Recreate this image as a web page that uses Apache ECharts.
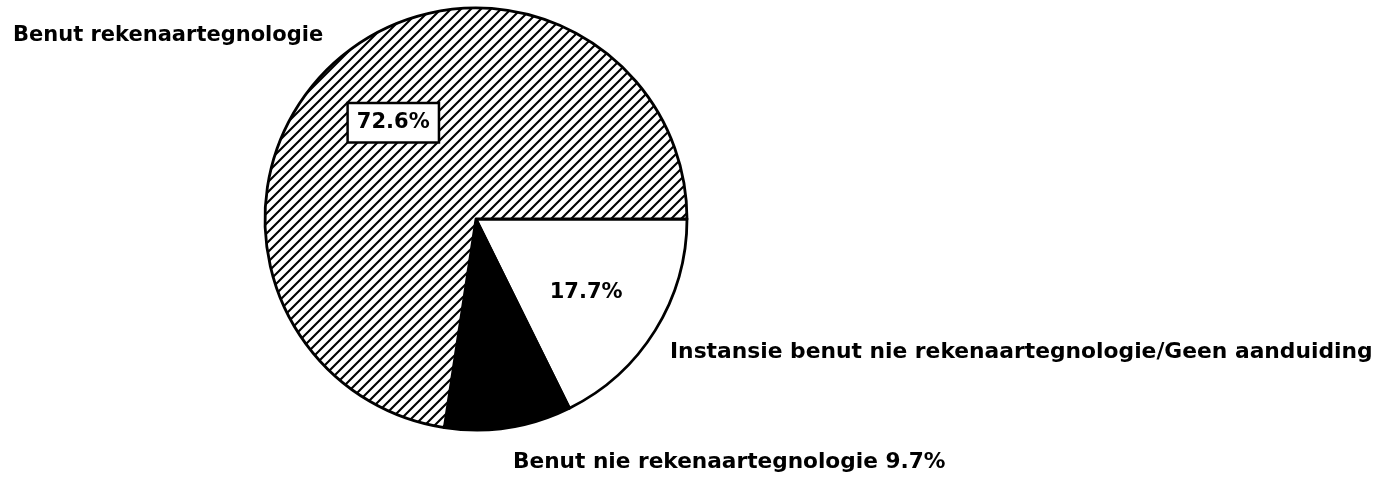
<!DOCTYPE html>
<html>
<head>
<meta charset="utf-8">
<script src="https://cdn.jsdelivr.net/npm/echarts@6/dist/echarts.min.js"></script>
<style>
html,body{margin:0;padding:0;background:#fff;}
#c{width:1388px;height:479px;}
</style>
</head>
<body>
<div id="c"></div>
<script>
// Data (clockwise from 3 o'clock)
var categories = ['Instansie benut nie rekenaartegnologie/Geen aanduiding', 'Benut nie rekenaartegnologie', 'Benut rekenaartegnologie'];
var values = [17.7, 9.7, 72.6];
var outerLabels = ['Instansie benut nie rekenaartegnologie/Geen aanduiding', 'Benut nie rekenaartegnologie 9.7%', 'Benut rekenaartegnologie'];

var FONT = 'bold 21px "DejaVu Sans"';

function hatch() {
  var s = 10;
  var cv = document.createElement('canvas');
  cv.width = s; cv.height = s;
  var g = cv.getContext('2d');
  g.fillStyle = '#fff'; g.fillRect(0, 0, s, s);
  g.strokeStyle = '#000'; g.lineWidth = 2.1;
  g.beginPath();
  g.moveTo(-s, s); g.lineTo(s, -s);
  g.moveTo(0, 2 * s); g.lineTo(2 * s, 0);
  g.moveTo(-s, 2 * s); g.lineTo(2 * s, -s);
  g.stroke();
  return cv;
}

var fills = ['#ffffff', '#000000', { image: hatch(), repeat: 'repeat' }];
var baseLabel = { show: true, position: 'inside', formatter: '{c}%', color: '#000',
  fontFamily: 'DejaVu Sans', fontWeight: 'bold', fontSize: 21 };
var labelStyles = [
  baseLabel,
  { show: false },
  Object.assign({}, baseLabel, { backgroundColor: '#fff', borderColor: '#000', borderWidth: 2.5, padding: [9, 8, 7, 8] })
];
var shifts = [[18, 16], [0, 0], [-12, -14]];

var chart = echarts.init(document.getElementById('c'), null, { renderer: 'canvas' });
chart.setOption({
  backgroundColor: '#fff',
  animation: false,
  series: [{
    type: 'pie',
    center: [476, 219],
    radius: 211,
    startAngle: 0,
    clockwise: true,
    silent: true,
    data: categories.map(function (n, i) {
      return {
        name: n, value: values[i],
        itemStyle: { color: fills[i], borderColor: '#000', borderWidth: 2.8 },
        label: labelStyles[i]
      };
    }),
    labelLine: { show: false },
    labelLayout: function (p) {
      var s = shifts[p.dataIndex];
      return { dx: s[0], dy: s[1] };
    }
  }],
  graphic: [
    { type: 'text', x: 13, y: 25, style: { text: outerLabels[2], font: FONT, fill: '#000' } },
    { type: 'text', x: 670, y: 342, scaleX: 1.038, style: { text: outerLabels[0], font: FONT, fill: '#000' } },
    { type: 'text', x: 513, y: 452, scaleX: 1.031, style: { text: outerLabels[1], font: FONT, fill: '#000' } }
  ]
});
</script>
</body>
</html>
